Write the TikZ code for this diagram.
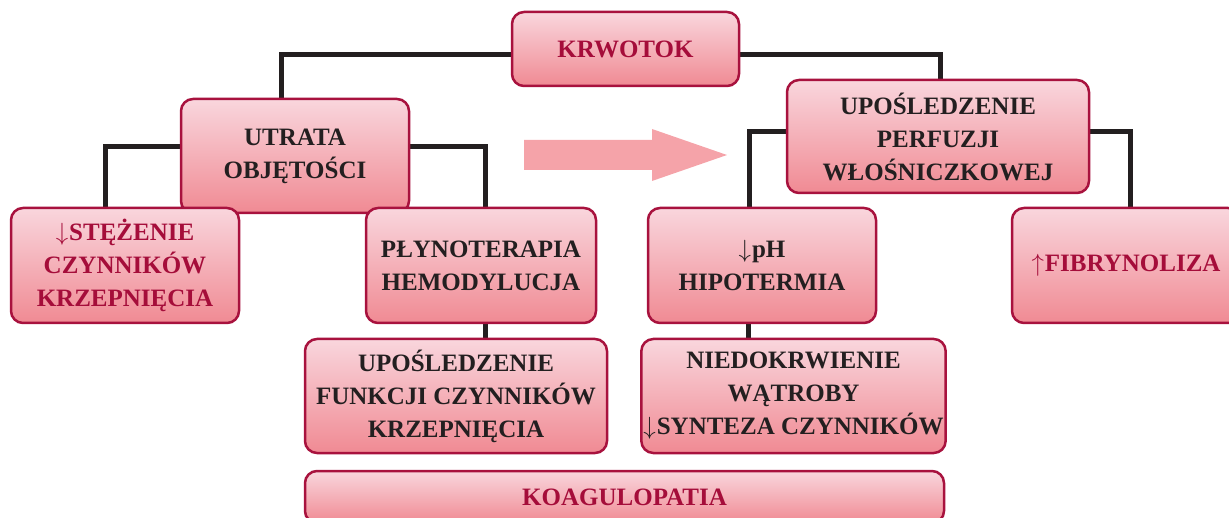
\documentclass[tikz,border=0pt]{standalone}
\usepackage{fontspec}
\setmainfont{Liberation Serif}
\usetikzlibrary{positioning,backgrounds}
\definecolor{boxred}{HTML}{A8123E}
\definecolor{txtred}{HTML}{A50D3A}
\definecolor{txtdark}{HTML}{231F20}
\definecolor{pinktop}{HTML}{F9D6DD}
\definecolor{pinkbot}{HTML}{F08A93}
\definecolor{arrowpink}{HTML}{F5A3A9}
\tikzset{
  box/.style={draw=boxred, line width=2.5pt, rounded corners=12pt,
    top color=pinktop, bottom color=pinkbot, align=center, inner sep=2pt,
    font=\fontsize{25}{33}\selectfont\bfseries, text=txtdark},
  redbox/.style={box, text=txtred},
  link/.style={line width=5pt, draw=txtdark}
}
\newcommand{\dn}{$\downarrow$\kern1pt}
\newcommand{\up}{$\uparrow$\kern1pt}

\begin{document}
\begin{tikzpicture}[x=1pt,y=-1pt]
    \useasboundingbox (0,0) rectangle (1229,518);
    % ---- top ----
    \node[redbox, minimum width=227pt, minimum height=74pt] (krw) at (625.5,49) {KRWOTOK};
    % ---- second row ----
    \node[box, minimum width=228pt, minimum height=114pt] (utr) at (295,156) {UTRATA\\OBJĘTOŚCI};
    \node[box, minimum width=302pt, minimum height=113pt] (perf) at (938,136.5) {UPOŚLEDZENIE\\PERFUZJI\\WŁOŚNICZKOWEJ};
    % ---- third row ----
    \node[redbox, minimum width=228pt, minimum height=115pt] (stez) at (125,265.5) {\dn STĘŻENIE\\CZYNNIKÓW\\KRZEPNIĘCIA};
    \node[box, minimum width=230pt, minimum height=115pt] (plyn) at (481,265.5) {PŁYNOTERAPIA\\HEMODYLUCJA};
    \node[box, minimum width=228pt, minimum height=115pt] (ph) at (762,265.5) {\dn pH\\HIPOTERMIA};
    \node[redbox, minimum width=228pt, minimum height=115pt] (fibr) at (1126,265.5) {\up FIBRYNOLIZA};
    % ---- fourth row ----
    \node[box, minimum width=302pt, minimum height=114pt] (funk) at (456,396) {UPOŚLEDZENIE\\FUNKCJI CZYNNIKÓW\\KRZEPNIĘCIA};
    \node[box, minimum width=301pt, minimum height=114pt] (niedo) at (793.5,396) {NIEDOKRWIENIE\\WĄTROBY\\\dn SYNTEZA CZYNNIKÓW};
    % ---- bottom ----
    \node[redbox, minimum width=639pt, minimum height=52pt] (koag) at (624.5,497) {KOAGULOPATIA};
    % ---- lines ----
    \begin{scope}[on background layer]
      \draw[link] ([yshift=-6pt]krw.west) -| ([xshift=-14pt]utr.north);
      \draw[link] ([yshift=-6pt]krw.east) -| ([xshift=2pt]perf.north);
      \draw[link] ([yshift=9pt]utr.west) -| ([xshift=-20pt]stez.north);
      \draw[link] ([yshift=9pt]utr.east) -| ([xshift=4pt]plyn.north);
      \draw[link] ([yshift=5pt]perf.west) -| ([xshift=-13pt]ph.north);
      \draw[link] ([yshift=5pt]perf.east) -| ([xshift=4pt]fibr.north);
      \draw[link] ([xshift=4pt]plyn.south) -- ([xshift=4pt]plyn.south |- funk.north);
      \draw[link] ([xshift=-14pt]ph.south) -- ([xshift=-14pt]ph.south |- niedo.north);
    \end{scope}
    % ---- arrow ----
    \fill[arrowpink] (524,140) -- (652,140) -- (652,129) -- (727,155)
      -- (652,181) -- (652,170) -- (524,170) -- cycle;
\end{tikzpicture}
\end{document}
